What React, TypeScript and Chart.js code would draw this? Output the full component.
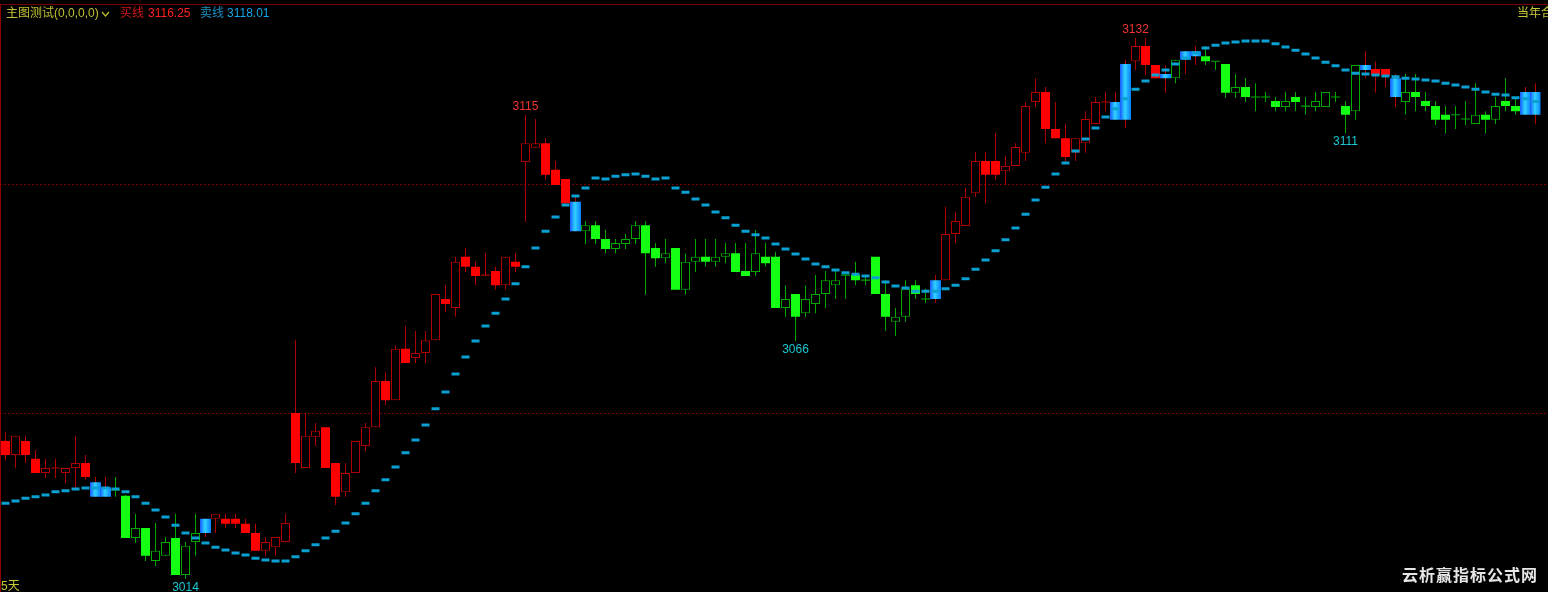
import React, { useEffect, useRef } from 'react';
import { Chart, registerables } from 'chart.js';

Chart.register(...registerables);

// ---- data (index / trading day) ----
const opens = [
  3043.9, 3040.8, 3043.9, 3040.0, 3036.9, 3038.0, 3036.9, 3038.0, 3039.1, 3034.9,
  3033.8, 3033.2, 3031.9, 3022.7, 3024.9, 3017.7, 3018.8, 3022.7, 3014.6, 3021.8,
  3023.8, 3026.9, 3026.9, 3026.9, 3025.8, 3023.8, 3019.9, 3020.7, 3021.8, 3050.0,
  3038.0, 3044.8, 3046.9, 3039.1, 3032.7, 3036.9, 3042.8, 3046.9, 3057.0, 3052.8,
  3064.0, 3062.0, 3063.1, 3065.9, 3074.9, 3072.9, 3084.1, 3081.9, 3080.1, 3081.0,
  3077.9, 3083.0, 3104.8, 3107.9, 3108.9, 3103.1, 3101.1, 3096.1, 3089.7, 3091.0,
  3088.0, 3085.8, 3086.9, 3088.0, 3091.0, 3086.0, 3083.8, 3086.0, 3076.9, 3083.0,
  3084.1, 3083.0, 3084.1, 3084.9, 3081.0, 3080.8, 3084.1, 3084.1, 3072.9, 3076.0,
  3071.8, 3073.8, 3076.0, 3077.9, 3080.1, 3080.1, 3079.0, 3084.1, 3076.0, 3069.9,
  3071.0, 3077.9, 3074.9, 3074.9, 3079.0, 3089.1, 3090.8, 3098.0, 3105.0, 3105.0,
  3102.8, 3103.9, 3106.8, 3117.9, 3120.1, 3112.0, 3110.0, 3106.8, 3108.9, 3113.1,
  3117.9, 3114.0, 3114.0, 3126.8, 3130.1, 3126.0, 3124.0, 3123.1, 3127.1, 3129.0,
  3127.9, 3126.8, 3126.2, 3119.9, 3121.2, 3119.0, 3119.0, 3118.1, 3116.8, 3119.0,
  3117.0, 3116.8, 3116.8, 3119.0, 3117.0, 3115.9, 3126.0, 3125.1, 3125.1, 3123.1,
  3117.9, 3120.1, 3118.1, 3117.0, 3115.1, 3115.1, 3114.2, 3113.1, 3115.1, 3114.0,
  3118.1, 3117.0, 3120.1, 3115.1,
];

const closes = [
  3040.8, 3045.0, 3040.8, 3036.9, 3038.0, 3038.0, 3038.0, 3039.1, 3036.0, 3031.7,
  3031.7, 3033.2, 3022.7, 3024.9, 3018.8, 3019.9, 3021.8, 3014.6, 3021.0, 3023.8,
  3026.9, 3028.0, 3025.8, 3025.8, 3023.8, 3019.9, 3021.8, 3022.9, 3026.0, 3039.1,
  3045.0, 3046.1, 3038.0, 3031.7, 3036.9, 3043.9, 3046.9, 3057.0, 3052.8, 3064.0,
  3060.9, 3063.1, 3065.9, 3076.0, 3073.8, 3083.0, 3081.9, 3079.9, 3080.1, 3077.9,
  3084.1, 3081.9, 3108.9, 3108.9, 3102.0, 3099.8, 3095.8, 3089.7, 3091.0, 3088.0,
  3085.8, 3087.1, 3088.0, 3091.0, 3084.9, 3083.8, 3084.9, 3076.9, 3083.0, 3084.1,
  3083.0, 3084.1, 3084.9, 3080.8, 3079.9, 3084.9, 3082.7, 3072.9, 3074.9, 3071.0,
  3074.9, 3076.0, 3079.0, 3079.0, 3080.1, 3079.0, 3079.0, 3076.0, 3071.0, 3071.0,
  3077.1, 3076.0, 3074.9, 3079.0, 3089.1, 3091.9, 3097.2, 3105.0, 3102.0, 3102.0,
  3103.9, 3108.1, 3117.0, 3120.1, 3112.0, 3110.0, 3105.9, 3110.0, 3114.2, 3117.9,
  3117.9, 3117.9, 3126.2, 3130.1, 3126.0, 3123.1, 3123.1, 3127.1, 3129.0, 3127.9,
  3126.8, 3126.8, 3119.9, 3121.2, 3119.0, 3119.0, 3119.0, 3116.8, 3118.1, 3117.9,
  3117.0, 3118.1, 3120.1, 3119.0, 3115.1, 3126.0, 3124.9, 3123.8, 3123.8, 3119.0,
  3120.1, 3119.0, 3117.0, 3114.0, 3114.0, 3115.1, 3114.2, 3115.1, 3114.0, 3117.0,
  3117.0, 3115.9, 3115.1, 3120.1,
];

const highs = [
  3045.8, 3045.0, 3045.0, 3041.9, 3040.0, 3040.0, 3038.0, 3045.0, 3040.8, 3036.0,
  3036.0, 3036.0, 3032.1, 3028.0, 3024.9, 3026.0, 3022.9, 3028.0, 3021.8, 3028.0,
  3026.9, 3028.0, 3028.0, 3028.0, 3026.9, 3025.8, 3022.9, 3022.9, 3028.0, 3065.9,
  3050.0, 3047.8, 3046.9, 3039.1, 3039.1, 3043.9, 3047.8, 3060.0, 3058.9, 3064.8,
  3069.0, 3067.9, 3067.9, 3076.0, 3077.9, 3084.1, 3086.0, 3083.0, 3084.9, 3081.9,
  3084.1, 3084.9, 3115.1, 3114.2, 3110.0, 3105.0, 3101.1, 3097.2, 3091.9, 3091.9,
  3090.0, 3088.0, 3089.1, 3091.9, 3091.9, 3087.1, 3088.0, 3086.0, 3084.9, 3088.0,
  3088.0, 3088.0, 3087.1, 3087.1, 3087.1, 3090.0, 3087.1, 3085.2, 3077.9, 3076.0,
  3077.9, 3080.1, 3081.0, 3081.0, 3080.1, 3083.0, 3080.1, 3084.1, 3079.0, 3072.9,
  3079.0, 3079.0, 3077.1, 3080.1, 3095.0, 3093.9, 3099.1, 3107.0, 3107.0, 3111.1,
  3106.1, 3108.9, 3117.9, 3123.1, 3121.2, 3117.9, 3113.1, 3110.0, 3115.9, 3119.0,
  3120.1, 3120.1, 3127.1, 3131.9, 3131.9, 3126.0, 3126.0, 3127.1, 3129.0, 3130.1,
  3130.1, 3126.8, 3126.2, 3124.0, 3123.1, 3122.0, 3120.1, 3119.0, 3120.1, 3120.1,
  3119.0, 3120.1, 3120.1, 3120.1, 3118.1, 3126.0, 3129.0, 3126.8, 3125.1, 3124.0,
  3124.0, 3124.0, 3120.1, 3118.1, 3117.0, 3117.0, 3118.1, 3122.0, 3115.9, 3119.0,
  3123.1, 3119.0, 3121.2, 3122.0,
];

const lows = [
  3039.7, 3038.0, 3039.1, 3036.9, 3035.8, 3035.8, 3034.7, 3033.8, 3035.4, 3031.7,
  3031.7, 3031.7, 3022.7, 3021.6, 3017.7, 3016.6, 3018.8, 3014.6, 3013.8, 3018.8,
  3022.9, 3023.8, 3024.9, 3024.9, 3023.8, 3019.9, 3018.8, 3018.8, 3021.8, 3036.9,
  3038.0, 3042.8, 3038.0, 3029.9, 3031.7, 3036.9, 3041.7, 3046.9, 3051.7, 3052.8,
  3060.9, 3060.9, 3060.9, 3065.9, 3072.0, 3071.0, 3080.8, 3077.9, 3079.9, 3076.9,
  3076.9, 3080.8, 3091.7, 3107.9, 3100.9, 3099.8, 3095.8, 3089.7, 3086.9, 3086.9,
  3084.9, 3084.9, 3085.8, 3086.9, 3075.8, 3081.9, 3082.7, 3076.9, 3075.8, 3080.8,
  3081.9, 3081.9, 3082.7, 3080.8, 3079.9, 3079.9, 3081.9, 3072.9, 3071.0, 3065.7,
  3071.0, 3071.8, 3072.9, 3074.9, 3074.9, 3077.9, 3077.9, 3076.0, 3067.9, 3066.8,
  3069.9, 3074.9, 3074.0, 3074.0, 3079.0, 3087.1, 3090.8, 3097.2, 3095.8, 3100.9,
  3099.8, 3103.9, 3105.0, 3116.8, 3108.9, 3110.0, 3104.8, 3105.0, 3106.8, 3113.1,
  3115.9, 3114.0, 3112.2, 3124.9, 3123.8, 3123.1, 3119.9, 3122.0, 3124.0, 3126.0,
  3126.0, 3124.9, 3118.8, 3118.8, 3117.9, 3115.9, 3117.9, 3115.9, 3115.9, 3115.9,
  3115.1, 3115.9, 3116.8, 3117.9, 3111.1, 3114.0, 3123.1, 3119.9, 3121.2, 3116.8,
  3115.1, 3115.9, 3115.9, 3112.9, 3111.1, 3112.0, 3112.9, 3113.1, 3111.1, 3113.1,
  3115.9, 3115.1, 3115.1, 3113.1,
];

// 卖线 (sell line) drawn as dashes
const sellLine = [
  3030.3, 3030.8, 3031.4, 3031.7, 3032.1, 3032.8, 3033.0, 3033.4, 3033.6, 3033.6,
  3033.6, 3033.4, 3032.8, 3031.7, 3030.3, 3028.8, 3027.3, 3025.5, 3023.8, 3022.7,
  3021.6, 3020.7, 3020.1, 3019.4, 3019.0, 3018.3, 3017.9, 3017.7, 3017.7, 3018.6,
  3019.9, 3021.2, 3022.7, 3024.2, 3026.0, 3028.0, 3030.3, 3033.0, 3035.4, 3038.2,
  3041.3, 3044.1, 3047.4, 3050.9, 3054.6, 3058.5, 3062.2, 3065.7, 3069.0, 3071.8,
  3074.9, 3078.2, 3081.9, 3086.0, 3089.7, 3092.8, 3095.4, 3097.4, 3099.1, 3101.3,
  3101.1, 3101.7, 3102.0, 3102.2, 3101.7, 3101.1, 3101.3, 3099.1, 3098.2, 3096.7,
  3095.4, 3093.9, 3092.6, 3091.0, 3089.7, 3088.9, 3088.2, 3086.9, 3085.8, 3084.7,
  3083.6, 3082.5, 3081.9, 3081.2, 3080.6, 3080.3, 3079.9, 3079.5, 3078.6, 3077.7,
  3077.3, 3076.6, 3076.6, 3076.6, 3077.1, 3077.9, 3079.3, 3081.4, 3083.4, 3085.4,
  3087.8, 3090.4, 3093.4, 3096.5, 3099.3, 3102.2, 3104.6, 3107.2, 3109.8, 3112.2,
  3114.6, 3116.4, 3118.6, 3120.7, 3122.5, 3123.8, 3124.9, 3126.2, 3127.5, 3128.6,
  3129.7, 3130.3, 3130.8, 3131.0, 3131.2, 3131.2, 3131.2, 3130.6, 3129.9, 3129.2,
  3128.4, 3127.5, 3126.6, 3125.8, 3124.9, 3124.2, 3124.0, 3123.8, 3123.6, 3123.4,
  3123.1, 3122.9, 3122.7, 3122.5, 3122.0, 3121.6, 3121.2, 3120.7, 3120.1, 3119.6,
  3119.4, 3118.8, 3118.6, 3118.01,
];

// candle regime: r = red, g = green, b = blue (signal)
const trend = (
  'rrrrrrrrr' + 'bb' + 'ggggggggg' + 'b' +
  'rrrrrrrrrrrrrrrrrrrrrrrrrrrrrrrrrrrr' + 'b' +
  'ggggggggggggggggggggggggggggggggggg' + 'b' +
  'rrrrrrrrrrrrrrrrr' + 'bb' + 'rrr' + 'b' + 'g' + 'bb' +
  'gggggggggggggggg' + 'b' + 'rr' + 'b' + 'gggggggggggg' + 'bb'
).split('');

const labels = opens.map((_, i) => String(i + 1));
const refLevels = [3100, 3050];
const peakMarks = [
  { index: 52, kind: 'high' },
  { index: 113, kind: 'high' },
  { index: 18, kind: 'low' },
  { index: 79, kind: 'low' },
  { index: 134, kind: 'low' },
];
const Y_MIN = 3010.91;
const Y_MAX = 3140.17;

// ---- styles ----
const RED_FILL = '#ff0000';
const RED_LINE = '#b00000';
const GREEN_FILL = '#14ff14';
const GREEN_LINE = '#00a800';
const SELL = '#0aa0d2';
const FONT = '"Liberation Sans", "Noto Sans CJK SC", sans-serif';

const isDoji = (i: number) => opens[i] === closes[i];
const isUp = (i: number) => closes[i] > opens[i];
const lineColor = (i: number) => (trend[i] === 'g' ? GREEN_LINE : RED_LINE);

const bodyData = opens.map((o, i) =>
  trend[i] === 'b' ? null : isDoji(i) ? [o - 0.12, o + 0.12] : [o, closes[i]]
);
const blueData = opens.map((o, i) =>
  trend[i] !== 'b' ? null : isDoji(i) ? [o - 0.12, o + 0.12] : [o, closes[i]]
);
const wickData = lows.map((l, i) => [l, highs[i]]);

const bodyBgArr = opens.map((_, i) =>
  isDoji(i) ? lineColor(i) : isUp(i) ? '#000000' : trend[i] === 'g' ? GREEN_FILL : RED_FILL
);
const bodyBorderArr = opens.map((_, i) => lineColor(i));
const bodyBwArr = opens.map((_, i) => (isUp(i) && !isDoji(i) ? 1 : 0));
const wickColorArr = opens.map((_, i) => lineColor(i));

const blueFill = (ctx: any) => {
  const i = ctx.dataIndex;
  const chart = ctx.chart;
  if (i == null || !chart.chartArea || !chart.scales.x) return '#1090ff';
  const x = chart.scales.x.getPixelForValue(i);
  const g = chart.ctx.createLinearGradient(x - 5.5, 0, x + 5.5, 0);
  g.addColorStop(0, '#1858ff');
  g.addColorStop(0.45, '#30d4ff');
  g.addColorStop(1, '#0a7cff');
  return g;
};

const overlayPlugin = {
  id: 'overlay',
  beforeDatasetsDraw(chart: any) {
    const { ctx, scales } = chart;
    ctx.save();
    ctx.strokeStyle = '#7a0000';
    ctx.lineWidth = 1;
    ctx.setLineDash([2, 2]);
    refLevels.forEach((v) => {
      const py = Math.round(scales.y.getPixelForValue(v)) + 0.5;
      ctx.beginPath();
      ctx.moveTo(0, py);
      ctx.lineTo(chart.width, py);
      ctx.stroke();
    });
    ctx.restore();
  },
  afterDatasetsDraw(chart: any) {
    const { ctx, scales } = chart;
    ctx.save();
    ctx.font = '12px ' + FONT;
    ctx.textAlign = 'center';
    ctx.textBaseline = 'middle';
    peakMarks.forEach((m) => {
      const x = scales.x.getPixelForValue(m.index);
      if (m.kind === 'high') {
        const y = scales.y.getPixelForValue(highs[m.index]) - 8.5;
        ctx.fillStyle = '#f03434';
        ctx.fillText(String(Math.round(highs[m.index])), x, y);
      } else {
        const y = scales.y.getPixelForValue(lows[m.index]) + 8.5;
        ctx.fillStyle = '#19c8d2';
        ctx.fillText(String(Math.round(lows[m.index])), x, y);
      }
    });
    // frame
    ctx.fillStyle = '#780000';
    ctx.fillRect(0, 4, chart.width, 1);
    ctx.fillStyle = '#8c0000';
    ctx.fillRect(0, 4, 1, chart.height);
    ctx.restore();
  },
};

const txt = (left: number, top: number, color: string, text: string, extra: any = {}) => (
  <span
    style={{
      position: 'absolute',
      left,
      top,
      color,
      fontSize: 12,
      lineHeight: '16px',
      fontFamily: FONT,
      whiteSpace: 'nowrap',
      ...extra,
    }}
  >
    {text}
  </span>
);

export default function App() {
  const ref = useRef<HTMLCanvasElement | null>(null);

  useEffect(() => {
    document.body.style.margin = '0';
    document.body.style.background = '#000';
    const canvas = ref.current;
    if (!canvas) return;
    const chart = new Chart(canvas, {
      type: 'bar',
      data: {
        labels,
        datasets: [
          {
            type: 'line',
            label: '卖线',
            data: sellLine,
            order: 0,
            showLine: false,
            pointStyle: 'line',
            pointRadius: 4,
            pointHoverRadius: 4,
            pointBorderWidth: 3,
            pointHoverBorderWidth: 3,
            borderColor: SELL,
            backgroundColor: SELL,
          } as any,
          {
            label: 'body',
            data: bodyData as any,
            order: 1,
            barThickness: 9,
            grouped: false,
            backgroundColor: bodyBgArr,
            borderColor: bodyBorderArr,
            borderWidth: bodyBwArr,
            borderSkipped: false,
            inflateAmount: 0,
          } as any,
          {
            label: 'signal',
            data: blueData as any,
            order: 1,
            barThickness: 11,
            grouped: false,
            backgroundColor: blueFill,
            borderWidth: 0,
            borderSkipped: false,
            inflateAmount: 0,
          } as any,
          {
            label: 'wick',
            data: wickData as any,
            order: 2,
            barThickness: 1,
            grouped: false,
            backgroundColor: wickColorArr,
            borderWidth: 0,
            borderSkipped: false,
            inflateAmount: 0,
          } as any,
        ],
      },
      options: {
        animation: false,
        responsive: false,
        events: [],
        layout: { autoPadding: false, padding: { left: 0.5, right: 7.5, top: 0, bottom: 0 } },
        plugins: { legend: { display: false }, tooltip: { enabled: false } },
        scales: {
          x: { display: false },
          y: { display: false, min: Y_MIN, max: Y_MAX },
        },
      } as any,
      plugins: [overlayPlugin],
    });
    return () => chart.destroy();
  }, []);

  return (
    <div
      style={{
        position: 'absolute',
        left: 0,
        top: 0,
        width: 1548,
        height: 592,
        background: '#000',
        overflow: 'hidden',
      }}
    >
      <canvas
        ref={ref}
        width={1548}
        height={592}
        style={{ position: 'absolute', left: 0, top: 0, width: 1548, height: 592 }}
      />
      {txt(6, 5, '#c0c030', '主图测试(0,0,0,0)')}
      <svg
        width={10}
        height={8}
        style={{ position: 'absolute', left: 101, top: 10 }}
      >
        <polyline points="1,2 4.5,6 8,2" fill="none" stroke="#c0c030" strokeWidth={1.2} />
      </svg>
      {txt(120, 5, '#d01818', '买线')}
      {txt(148, 5, '#ff2020', '3116.25')}
      {txt(200, 5, '#1a8fbf', '卖线')}
      {txt(227, 5, '#10a8e8', '3118.01')}
      {txt(1517, 5, '#c8c832', '当年合计')}
      {txt(1, 578, '#c8c832', '5天')}
      {txt(1402, 565, '#e6e6e6', '云析赢指标公式网', {
        fontSize: 16,
        lineHeight: '21px',
        fontWeight: 'bold',
        letterSpacing: 1,
      })}
    </div>
  );
}
